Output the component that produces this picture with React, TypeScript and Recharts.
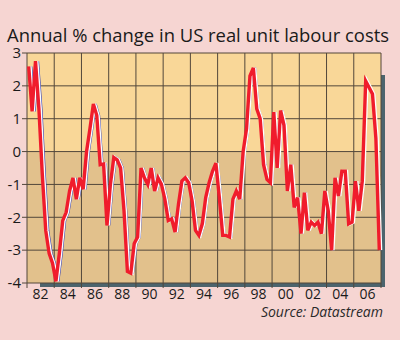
import React from 'react';
import { LineChart, Line, XAxis, YAxis, ReferenceLine } from 'recharts';

// quarterly series, first point = 1981 Q1
const startYear = 1981;
const costChange = [
  2.59, 1.22, 2.75, 1.3, -0.7, -2.4, -3.1, -3.4, -3.95, -3.1,
  -2.1, -1.85, -1.2, -0.8, -1.45, -0.8, -1.15, 0.0, 0.7, 1.45,
  1.1, -0.4, -0.38, -2.25, -1.0, -0.18, -0.25, -0.5, -1.8, -3.65,
  -3.7, -2.8, -2.6, -0.5, -0.8, -1.0, -0.5, -1.2, -0.8, -1.0,
  -1.45, -2.1, -2.05, -2.45, -1.6, -0.9, -0.8, -0.95, -1.5, -2.4,
  -2.55, -2.2, -1.4, -0.95, -0.6, -0.35, -1.4, -2.55, -2.55, -2.6,
  -1.45, -1.2, -1.45, 0.0, 0.7, 2.3, 2.55, 1.3, 1.0, -0.4,
  -0.85, -0.95, 1.2, -0.5, 1.25, 0.8, -1.2, -0.4, -1.7, -1.4,
  -2.5, -1.25, -2.4, -2.15, -2.25, -2.15, -2.5, -1.2, -1.8, -3.0,
  -0.8, -1.35, -0.6, -0.6, -2.2, -2.15, -0.9, -1.8, -0.9, 2.15,
  1.95, 1.75, 0.4, -3.0,
];
// grid lines at odd years, labels centred between them
const gridYears = [1981, 1983, 1985, 1987, 1989, 1991, 1993, 1995, 1997, 1999, 2001, 2003, 2005, 2007];
const yearLabels = ['82', '84', '86', '88', '90', '92', '94', '96', '98', '00', '02', '04', '06'];
const yTicks = [-4, -3, -2, -1, 0, 1, 2, 3];
const yDomain: [number, number] = [-4, 3];

const data = costChange.map((v, i) => ({ x: startYear + (i + 0.5) / 4, v }));

const font = '"Open Sans", "Noto Sans", sans-serif';
const gridColor = '#52473b';
const W = 400;
const H = 340;
const margin = { top: 53, right: 19, bottom: 32, left: 0 };
const yAxisWidth = 27;
const xAxisHeight = 25;
const plotW = W - margin.right - yAxisWidth;
const plotH = H - margin.top - margin.bottom - xAxisHeight;
const zeroY = margin.top + (plotH * yDomain[1]) / (yDomain[1] - yDomain[0]);
const halfStep = plotW / (gridYears.length - 1) / 2;

function YearTick(props: any) {
  const { x, y, index } = props;
  const label = yearLabels[index];
  if (!label) return null;
  return (
    <text x={x + halfStep} y={y} dy={11} textAnchor="middle" fontSize={14} fill="#1a1a1a" fontFamily={font}>
      {label}
    </text>
  );
}

export default function App() {
  return (
    <div style={{ position: 'absolute', left: 0, top: 0, width: W, height: H, background: '#f6d5d2', fontFamily: font }}>
      {/* drop shadow and the two background bands of the plot */}
      <div style={{ position: 'absolute', left: yAxisWidth + 13, top: margin.top + 22, width: plotW + 4 - 13, height: plotH + 4 - 22, background: '#4c646d' }} />
      <div style={{ position: 'absolute', left: yAxisWidth, top: margin.top, width: plotW, height: zeroY - margin.top, background: '#f9d798' }} />
      <div style={{ position: 'absolute', left: yAxisWidth, top: zeroY, width: plotW, height: margin.top + plotH - zeroY, background: '#e2c18c' }} />
      <svg width={W} height={H} style={{ position: 'absolute', left: 0, top: 0 }}>
        <text x={7} y={42} fontSize={18} fill="#1a1a1a" textLength={382} lengthAdjust="spacingAndGlyphs" fontFamily={font}>
          Annual % change in US real unit labour costs
        </text>
        <text x={383} y={317} fontSize={14} fontStyle="italic" fill="#2a2a2a" textAnchor="end" fontFamily={font}>
          Source: Datastream
        </text>
      </svg>
      <div style={{ position: 'absolute', left: 0, top: 0 }}>
        <LineChart width={W} height={H} data={data} margin={margin}>
          <XAxis
            xAxisId="main"
            dataKey="x"
            type="number"
            domain={[1981, 2007]}
            ticks={gridYears}
            tick={<YearTick />}
            tickSize={5}
            tickMargin={0}
            height={xAxisHeight}
            axisLine={false}
            tickLine={{ stroke: gridColor }}
            interval={0}
          />
          <XAxis xAxisId="white" dataKey="x" type="number" domain={[1981 - 0.11, 2007 - 0.11]} height={0} hide />
          <XAxis xAxisId="blue" dataKey="x" type="number" domain={[1981 - 0.22, 2007 - 0.22]} height={0} hide />
          <YAxis
            domain={yDomain}
            ticks={yTicks}
            width={yAxisWidth}
            tickSize={5}
            tickMargin={1}
            axisLine={false}
            tickLine={{ stroke: gridColor }}
            tick={{ fill: '#1a1a1a', fontSize: 15, fontFamily: font }}
            interval={0}
          />
          {yTicks.map((t) => (
            <ReferenceLine key={`h${t}`} xAxisId="main" y={t} stroke={gridColor} strokeWidth={1} />
          ))}
          {gridYears.map((g) => (
            <ReferenceLine key={`v${g}`} xAxisId="main" x={g} stroke={gridColor} strokeWidth={1} />
          ))}
          <Line xAxisId="blue" dataKey="v" type="linear" stroke="#3340b8" strokeWidth={1.3} dot={false} isAnimationActive={false} />
          <Line xAxisId="white" dataKey="v" type="linear" stroke="#ffffff" strokeWidth={3} dot={false} isAnimationActive={false} />
          <Line xAxisId="main" dataKey="v" type="linear" stroke="#f01c2c" strokeWidth={3.4} dot={false} isAnimationActive={false} />
        </LineChart>
      </div>
    </div>
  );
}
